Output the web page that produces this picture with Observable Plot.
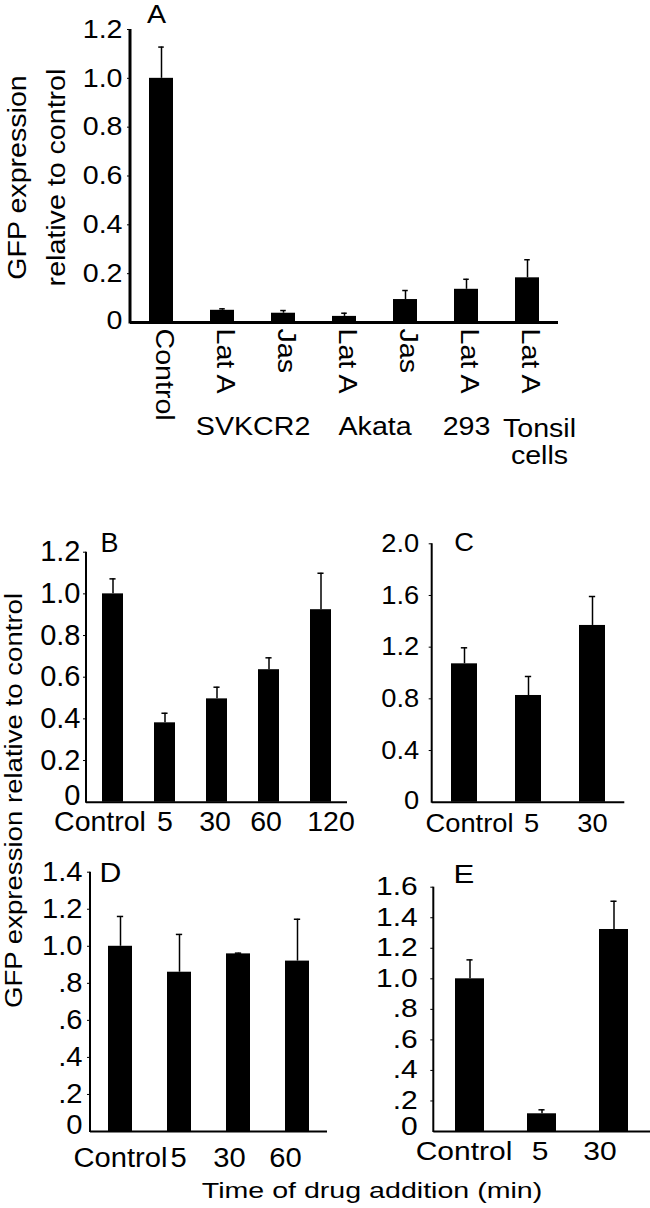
<!DOCTYPE html>
<html><head><meta charset="utf-8">
<script src="https://cdn.jsdelivr.net/npm/d3@7"></script>
<script src="https://cdn.jsdelivr.net/npm/@observablehq/plot@0.6"></script>
<style>
body{margin:0;background:#fff;}
#wrap{position:relative;width:650px;height:1208px;overflow:hidden;background:#fff;}
#wrap svg{position:absolute;max-width:none;}
</style></head><body><div id="wrap"></div>
<script>
const FONT = "'Liberation Sans', Arial, Helvetica, sans-serif";

// ---------- Panel A ----------
const aKeys = ["Control","SVKCR2 Lat A","SVKCR2 Jas","Akata Lat A","Akata Jas","293 Lat A","Tonsil Lat A"];
const aTickLabels = ["Control","Lat A","Jas","Lat A","Jas","Lat A","Lat A"];
const aValues = [1.0, 0.050, 0.038, 0.025, 0.094, 0.136, 0.183];
const aErrors = [0.128, 0.006, 0.011, 0.013, 0.037, 0.041, 0.074];
const aGroupLabels = ["SVKCR2","Akata","293","Tonsil\ncells"];
const aGroupFirst = ["SVKCR2 Lat A","Akata Lat A","293 Lat A","Tonsil Lat A"];
const aGroupSize = [2,2,1,1];
const aYTicks = [0,0.2,0.4,0.6,0.8,1.0,1.2];
const aYLabel = "GFP expression\nrelative to control";

// ---------- Panel B ----------
const bCats = ["Control","5","30","60","120"];
const bValues = [1.0, 0.381, 0.496, 0.636, 0.924];
const bErrors = [0.072, 0.046, 0.056, 0.057, 0.175];
const bYTicks = [0,0.2,0.4,0.6,0.8,1.0,1.2];

// ---------- Panel C ----------
const cCats = ["Control","5","30"];
const cValues = [1.071, 0.826, 1.368];
const cErrors = [0.124, 0.147, 0.224];
const cYTicks = [0,0.4,0.8,1.2,1.6,2.0];

// ---------- Panel D ----------
const dCats = ["Control","5","30","60"];
const dValues = [1.0, 0.86, 0.959, 0.92];
const dErrors = [0.161, 0.204, 0.004, 0.226];
const dYTicks = [0,0.2,0.4,0.6,0.8,1.0,1.2,1.4];

// ---------- Panel E ----------
const eCats = ["Control","5","30"];
const eValues = [1.0, 0.116, 1.323];
const eErrors = [0.124, 0.026, 0.185];
const eYTicks = [0,0.2,0.4,0.6,0.8,1.0,1.2,1.4,1.6];

const sharedYLabel = "GFP expression relative to control";
const xTitle = "Time of drug addition (min)";

const fmt1 = d => d === 0 ? "0" : d.toFixed(1);
const fmtDot = d => d === 0 ? "0" : (d < 1 ? d.toFixed(1).slice(1) : d.toFixed(1));

function stretch(sel, sx) {
  sel.each(function() {
    const t = this.getAttribute("transform") || "";
    this.setAttribute("transform", `${t} scale(${sx},1)`);
  });
}

function panel(o) {
  const rows = o.cats.map((c, i) => ({cat: c, label: o.labels[i], v: o.values[i], e: o.errors[i]}));
  const step = (o.width - o.ml - o.mr) / o.cats.length;
  const bw = step * 0.4;
  const capW = 6;
  const chart = Plot.plot({
    width: o.width, height: o.height,
    marginLeft: o.ml, marginRight: o.mr, marginTop: o.mt, marginBottom: o.mb,
    style: {fontFamily: FONT, fontSize: o.font + "px", background: "transparent", overflow: "visible", color: "#000"},
    x: {domain: o.cats, paddingInner: 0.6, paddingOuter: 0.3, align: 0.5, label: null},
    y: {domain: [0, o.yMax], label: null},
    marks: [
      Plot.barY(rows, {x: "cat", y: "v", fill: "#000"}),
      Plot.ruleX(rows, {x: "cat", y1: "v", y2: d => d.v + d.e, stroke: "#000", strokeWidth: 1.5}),
      Plot.tickY(rows, {x: "cat", y: d => d.v + d.e, stroke: "#000", strokeWidth: 1.5,
        insetLeft: (bw - capW) / 2, insetRight: (bw - capW) / 2}),
      Plot.ruleY([0], {stroke: "#000", strokeWidth: o.axisW}),
      Plot.axisY({ticks: o.yTicks.filter(t => t !== 0), tickFormat: o.tickFormat, tickSize: 3, tickPadding: o.yPad,
        fontSize: o.tickFont, label: null}),
      Plot.axisY({ticks: [0], tickFormat: o.tickFormat, tickSize: 0, tickPadding: o.yPad + 3,
        dy: o.zeroDy || 0, fontSize: o.tickFont, label: null}),
      ...o.cats.map((c, i) => Plot.axisX({ticks: [c], tickSize: 0, tickPadding: o.xPad, tickRotate: o.xRotate || 0,
        dx: (o.xDx || 0) + (o.xOff ? o.xOff[i] : 0),
        tickFormat: d => o.labels[o.cats.indexOf(d)], fontSize: o.xFont, label: null})),
      Plot.text([o.letter], {text: d => d, frameAnchor: "top-left", textAnchor: "middle", lineAnchor: "middle",
        dx: o.letterDx, dy: o.letterDy, fontSize: o.letterFont}),
      ...(o.extra ? o.extra(step) : [])
    ]
  });
  d3.select(chart).append("line")
    .attr("x1", o.ml).attr("x2", o.ml)
    .attr("y1", o.mt).attr("y2", o.height - o.mb + o.axisW / 2)
    .attr("stroke", "#000").attr("stroke-width", o.axisW);
  stretch(d3.select(chart).selectAll("text"), o.sx);
  chart.style.left = o.left + "px";
  chart.style.top = o.top + "px";
  document.getElementById("wrap").appendChild(chart);
  return chart;
}

// Panel A
const aGroups = aGroupLabels.map((g, i) => ({label: g, first: aGroupFirst[i], size: aGroupSize[i]}));
panel({
  cats: aKeys, labels: aTickLabels, values: aValues, errors: aErrors, yMax: 1.2, yTicks: aYTicks, tickFormat: fmt1,
  left: 0, top: 0, width: 650, height: 500, ml: 130, mr: 92, mt: 29, mb: 178,
  font: 26, tickFont: 26, xFont: 26, letterFont: 26, sx: 1.1, axisW: 3, yPad: 5, xPad: 6, xRotate: 90, xDx: 3,
  zeroDy: -2,
  letter: "A", letterDx: 26, letterDy: -15,
  extra: step => [
    Plot.text(aGroups.filter(d => d.size === 2), {x: "first", text: "label", frameAnchor: "bottom", dx: step / 2, dy: 112, fontSize: 26}),
    Plot.text(aGroups.filter(d => d.size === 1 && !d.label.includes("\n")), {x: "first", text: "label", frameAnchor: "bottom", dy: 112, fontSize: 26}),
    Plot.text(aGroups.filter(d => d.label.includes("\n")), {x: "first", text: "label", frameAnchor: "bottom", dx: 12, dy: 95, lineAnchor: "top", lineHeight: 1.05, fontSize: 26}),
    Plot.text([aYLabel], {text: d => d, frameAnchor: "left", textAnchor: "middle", lineAnchor: "middle", dx: -97, dy: 1.5, rotate: -90, lineHeight: 1.5, fontSize: 26})
  ]
});

// Panel B
panel({
  cats: bCats, labels: bCats, values: bValues, errors: bErrors, yMax: 1.2, yTicks: bYTicks, tickFormat: fmt1,
  left: 0, top: 500, width: 350, height: 340, ml: 86, mr: 3, mt: 51.7, mb: 38.3,
  font: 29, tickFont: 29, xFont: 28.5, letterFont: 27, sx: 1.0, axisW: 2, yPad: 3, xPad: 9, zeroDy: -6,
  xOff: [-13, 0, -2, -3, 10],
  letter: "B", letterDx: 23, letterDy: -9
});

// Panel C
panel({
  cats: cCats, labels: cCats, values: cValues, errors: cErrors, yMax: 2.0, yTicks: cYTicks, tickFormat: fmt1,
  left: 330, top: 500, width: 320, height: 340, ml: 101.7, mr: 25.7, mt: 43.3, mb: 38.3,
  font: 26, tickFont: 26, xFont: 26, letterFont: 26, sx: 1.05, axisW: 2, yPad: 10, xPad: 11, zeroDy: -2,
  xOff: [5, 3, 0],
  letter: "C", letterDx: 32, letterDy: -1
});

// Panel D
panel({
  cats: dCats, labels: dCats, values: dValues, errors: dErrors, yMax: 1.4, yTicks: dYTicks, tickFormat: fmtDot,
  left: 0, top: 840, width: 340, height: 368, ml: 90, mr: 13, mt: 31.7, mb: 77,
  font: 27, tickFont: 27, xFont: 27, letterFont: 28, sx: 1.08, axisW: 2, yPad: 5, xPad: 16, zeroDy: -6,
  xOff: [0, -1, -9, -12],
  letter: "D", letterDx: 20, letterDy: 1
});

// Panel E
panel({
  cats: eCats, labels: eCats, values: eValues, errors: eErrors, yMax: 1.6, yTicks: eYTicks, tickFormat: fmtDot,
  left: 330, top: 840, width: 320, height: 368, ml: 103.3, mr: 0, mt: 46.7, mb: 77,
  font: 25, tickFont: 25, xFont: 25, letterFont: 26, sx: 1.2, axisW: 2, yPad: 13, xPad: 10.5, zeroDy: -4.5,
  xOff: [-6, -2, -14],
  letter: "E", letterDx: 30, letterDy: -13
});

// Shared labels (overlay)
const overlay = Plot.plot({
  width: 650, height: 1208, margin: 0,
  style: {fontFamily: FONT, fontSize: "24px", background: "transparent", overflow: "visible", color: "#000"},
  marks: [
    Plot.text([sharedYLabel], {text: d => d, frameAnchor: "top-left", textAnchor: "middle", lineAnchor: "middle",
      dx: 14, dy: 800, rotate: -90, fontSize: 24}),
    Plot.text([xTitle], {text: d => d, frameAnchor: "top-left", textAnchor: "middle", lineAnchor: "middle",
      dx: 371.5, dy: 1190, fontSize: 22})
  ]
});
stretch(d3.select(overlay).selectAll("text").filter(function() { return this.textContent === sharedYLabel; }), 1.15);
stretch(d3.select(overlay).selectAll("text").filter(function() { return this.textContent === xTitle; }), 1.3);
overlay.style.left = "0px";
overlay.style.top = "0px";
overlay.style.pointerEvents = "none";
document.getElementById("wrap").appendChild(overlay);
</script>
</body></html>
